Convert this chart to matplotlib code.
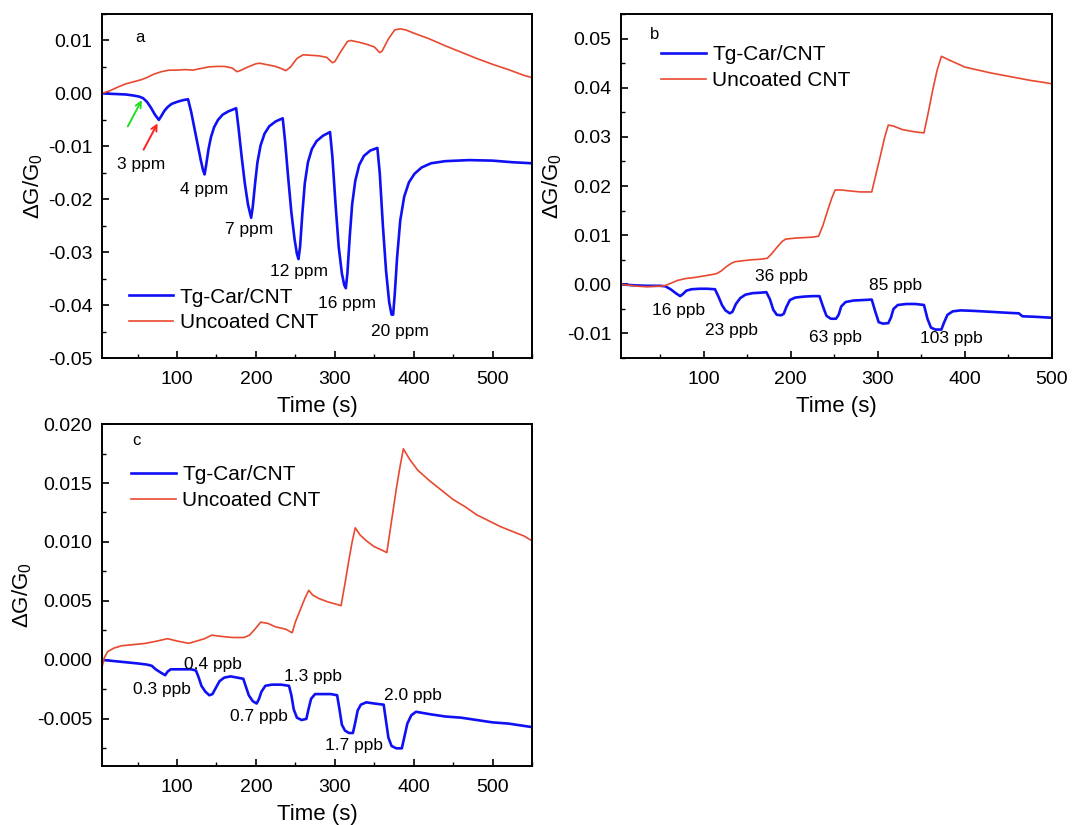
import matplotlib
matplotlib.use("Agg")
import matplotlib.pyplot as plt
from matplotlib.ticker import MultipleLocator, FuncFormatter

plt.rcParams['font.family'] = ['Liberation Sans', 'DejaVu Sans']
plt.rcParams['axes.unicode_minus'] = False
plt.rcParams['mathtext.fontset'] = 'custom'
plt.rcParams['mathtext.rm'] = 'Liberation Sans'
plt.rcParams['mathtext.it'] = 'Liberation Sans'

BLUE = '#1010f5'
RED = '#e8492f'

# ---------------- panel a: ppm exposures ----------------
a_coated_t = [5, 20, 35, 45, 52, 57, 62, 67, 72, 77, 80, 84, 88, 93, 100, 107, 114,
              118, 122, 126, 130, 133, 135, 137, 140, 143, 147, 152, 158, 165, 175,
              178, 182, 186, 190, 194, 196, 199, 202, 206, 211, 217, 225, 234,
              237, 241, 245, 249, 252, 254, 256, 259, 262, 266, 271, 277, 285, 294,
              297, 301, 305, 309, 312, 314, 316, 319, 322, 326, 331, 337, 345, 354,
              357, 361, 365, 369, 372, 374, 376, 379, 383, 388, 394, 401, 410, 422,
              440, 470, 500, 525, 550]
a_coated_v = [0.0, -0.0001, -0.0002, -0.0004, -0.0006, -0.0009, -0.0016, -0.0027, -0.0040,
              -0.0050, -0.0043, -0.0033, -0.0026, -0.0020, -0.0016, -0.0013, -0.0011,
              -0.0035, -0.0065, -0.0095, -0.0125, -0.0145, -0.0153, -0.0135, -0.0105,
              -0.0083, -0.0064, -0.0050, -0.0040, -0.0034, -0.0028,
              -0.0065, -0.0120, -0.0170, -0.0210, -0.0235, -0.0215, -0.0170, -0.0130,
              -0.0098, -0.0076, -0.0062, -0.0053, -0.0047,
              -0.0090, -0.0160, -0.0225, -0.0275, -0.0303, -0.0313, -0.0290, -0.0225,
              -0.0170, -0.0130, -0.0105, -0.0090, -0.0080, -0.0073,
              -0.0120, -0.0210, -0.0290, -0.0340, -0.0362, -0.0368, -0.0340, -0.0270,
              -0.0210, -0.0165, -0.0135, -0.0118, -0.0108, -0.0103,
              -0.0150, -0.0250, -0.0335, -0.0395, -0.0418, -0.0418, -0.0380, -0.0310,
              -0.0240, -0.0195, -0.0168, -0.0152, -0.0140, -0.0132,
              -0.0128, -0.0126, -0.0127, -0.0130, -0.0132]

a_bare_t = [5, 15, 25, 35, 45, 55, 62, 70, 80, 90, 100, 110, 120, 130, 140, 150, 160,
            170, 176, 180, 190, 200, 205, 215, 225, 232, 238, 244, 252, 260, 270, 280,
            290, 297, 300, 308, 316, 320, 330, 340, 350, 357, 360, 368, 376, 383, 390,
            400, 420, 440, 460, 480, 500, 520, 540, 550]
a_bare_v = [0.0, 0.0005, 0.0012, 0.0018, 0.0022, 0.0026, 0.0030, 0.0036, 0.0041, 0.0044,
            0.0044, 0.0045, 0.0044, 0.0047, 0.0050, 0.0051, 0.0051, 0.0048, 0.0041,
            0.0043, 0.0050, 0.0056, 0.0057, 0.0054, 0.0051, 0.0047, 0.0043, 0.0050,
            0.0066, 0.0073, 0.0072, 0.0071, 0.0068, 0.0058, 0.0060, 0.0080, 0.0098,
            0.0100, 0.0097, 0.0093, 0.0088, 0.0077, 0.0080, 0.0103, 0.0120, 0.0122,
            0.0120, 0.0114, 0.0103, 0.0090, 0.0078, 0.0066, 0.0055, 0.0045, 0.0034,
            0.0030]

a_labels = ['3 ppm', '4 ppm', '7 ppm', '12 ppm', '16 ppm', '20 ppm']
a_label_x = [55, 134, 191, 255, 316, 382]
a_label_y = [-0.0134, -0.0182, -0.0258, -0.0337, -0.0397, -0.0450]

# ---------------- panel b: ppb exposures ----------------
b_coated_t = [5, 20, 35, 50, 56, 62, 68, 73, 76, 80, 86, 95, 104, 113,
              117, 121, 125, 130, 133, 137, 142, 148, 156, 165, 172,
              176, 180, 184, 189, 192, 195, 199, 205, 215, 225, 233,
              237, 241, 246, 252, 255, 258, 263, 272, 283, 293,
              297, 301, 306, 312, 315, 318, 323, 333, 343, 353,
              357, 361, 366, 373, 376, 380, 386, 395, 410, 430, 450, 462, 466, 480, 500]
b_coated_v = [0.0, -0.0002, -0.0003, -0.0003, -0.0004, -0.0010, -0.0018, -0.0024, -0.0020,
              -0.0013, -0.0010, -0.0009, -0.0009, -0.0010,
              -0.0025, -0.0042, -0.0053, -0.0059, -0.0056, -0.0040, -0.0028, -0.0021,
              -0.0018, -0.0017, -0.0016,
              -0.0030, -0.0052, -0.0062, -0.0063, -0.0060, -0.0046, -0.0032, -0.0027,
              -0.0025, -0.0024, -0.0024,
              -0.0045, -0.0064, -0.0070, -0.0070, -0.0062, -0.0045, -0.0036, -0.0033,
              -0.0032, -0.0031,
              -0.0055, -0.0077, -0.0080, -0.0079, -0.0068, -0.0050, -0.0042, -0.0040,
              -0.0040, -0.0042,
              -0.0070, -0.0088, -0.0092, -0.0092, -0.0078, -0.0062, -0.0055, -0.0053,
              -0.0054, -0.0056, -0.0058, -0.0059, -0.0065, -0.0066, -0.0068]

b_bare_t = [5, 15, 25, 35, 45, 55, 62, 70, 80, 90, 100, 110, 115, 120, 126, 132, 136,
            145, 155, 165, 173, 178, 184, 190, 194, 205, 215, 225, 232, 237, 242, 247,
            251, 258, 268, 280, 293, 298, 303, 308, 312, 318, 328, 340, 353, 358, 363,
            368, 373, 380, 390, 400, 415, 430, 445, 460, 475, 490, 500]
b_bare_v = [0.0, -0.0002, -0.0004, -0.0005, -0.0004, -0.0003, 0.0002, 0.0008, 0.0012,
            0.0014, 0.0017, 0.0020, 0.0022, 0.0027, 0.0036, 0.0043, 0.0046, 0.0048,
            0.0050, 0.0051, 0.0053, 0.0062, 0.0075, 0.0087, 0.0092, 0.0094, 0.0095,
            0.0096, 0.0098, 0.0120, 0.0148, 0.0175, 0.0192, 0.0192, 0.0190, 0.0188,
            0.0188, 0.0225, 0.0262, 0.0300, 0.0324, 0.0322, 0.0315, 0.0311, 0.0308,
            0.0350, 0.0395, 0.0435, 0.0464, 0.0458, 0.0450, 0.0442, 0.0436, 0.0430,
            0.0425, 0.0420, 0.0415, 0.0411, 0.0408]

b_labels = ['16 ppb', '23 ppb', '36 ppb', '63 ppb', '85 ppb', '103 ppb']
b_label_x = [71, 132, 189, 251, 320, 385]
b_label_y = [-0.0054, -0.0094, 0.0016, -0.0109, -0.0002, -0.0111]

# ---------------- panel c: sub-ppb exposures ----------------
c_coated_t = [5, 20, 35, 50, 62, 68, 73, 80, 85, 88, 92, 100, 110, 118, 124,
              127, 131, 136, 141, 145, 149, 154, 160, 168, 176, 184,
              187, 191, 196, 201, 204, 207, 212, 220, 232, 242,
              245, 248, 252, 258, 264, 267, 270, 275, 285, 295, 303,
              306, 309, 313, 318, 323, 326, 329, 333, 340, 350, 362,
              365, 368, 372, 378, 385, 388, 392, 397, 403, 420, 440, 460, 480, 500,
              520, 540, 550]
c_coated_v = [0.0, -0.0001, -0.0002, -0.0003, -0.0004, -0.0005, -0.0008, -0.0011, -0.0013,
              -0.0010, -0.0008, -0.0008, -0.0008, -0.0008, -0.0009,
              -0.0014, -0.0022, -0.0027, -0.0030, -0.0029, -0.0024, -0.0018, -0.0015,
              -0.0014, -0.0015, -0.0016,
              -0.0022, -0.0030, -0.0035, -0.0037, -0.0033, -0.0027, -0.0022, -0.0021,
              -0.0021, -0.0022,
              -0.0030, -0.0042, -0.0049, -0.0051, -0.0050, -0.0041, -0.0033, -0.0029,
              -0.0029, -0.0029, -0.0030,
              -0.0042, -0.0055, -0.0060, -0.0062, -0.0062, -0.0053, -0.0043, -0.0038,
              -0.0036, -0.0037, -0.0038,
              -0.0052, -0.0066, -0.0073, -0.0075, -0.0075, -0.0066, -0.0054, -0.0047,
              -0.0044, -0.0046, -0.0048, -0.0049, -0.0051, -0.0053, -0.0054, -0.0056,
              -0.0057]

c_bare_t = [5, 8, 12, 20, 30, 45, 60, 75, 88, 100, 115, 125, 135, 144, 155, 170, 185,
            192, 200, 206, 215, 225, 238, 246, 250, 256, 262, 267, 272, 280, 292, 303,
            308, 313, 318, 322, 326, 332, 340, 350, 360, 366, 372, 378, 383, 387, 395,
            405, 420, 435, 450, 465, 480, 495, 510, 525, 540, 550]
c_bare_v = [-0.0006, 0.0002, 0.0007, 0.0010, 0.0012, 0.0013, 0.0014, 0.0016, 0.0018,
            0.0016, 0.0014, 0.0016, 0.0018, 0.0021, 0.0020, 0.0019, 0.0019, 0.0021,
            0.0027, 0.0032, 0.0031, 0.0028, 0.0026, 0.0023, 0.0032, 0.0042, 0.0052,
            0.0059, 0.0055, 0.0052, 0.0049, 0.0047, 0.0046, 0.0065, 0.0085, 0.0100,
            0.0112, 0.0106, 0.0101, 0.0096, 0.0093, 0.0091, 0.0118, 0.0145, 0.0165,
            0.0179, 0.0170, 0.0161, 0.0152, 0.0144, 0.0136, 0.0130, 0.0123, 0.0118,
            0.0113, 0.0109, 0.0105, 0.0101]

c_labels = ['0.3 ppb', '0.4 ppb', '0.7 ppb', '1.3 ppb', '1.7 ppb', '2.0 ppb']
c_label_x = [81, 146, 204, 272, 324, 399]
c_label_y = [-0.0025, -0.0004, -0.0048, -0.0014, -0.0073, -0.0030]

series_names = ['Tg-Car/CNT', 'Uncoated CNT']

fig = plt.figure(figsize=(10.73, 8.25), dpi=100)
ax_a = fig.add_axes([0.0951, 0.566, 0.4007, 0.417])
ax_b = fig.add_axes([0.5787, 0.566, 0.4017, 0.417])
ax_c = fig.add_axes([0.0951, 0.0715, 0.4007, 0.4145])


def tick_fmt(decimals):
    def f(v, pos):
        s = f'{v:.{decimals}f}'
        if float(s) == 0:
            s = s.lstrip('-')
        return s
    return FuncFormatter(f)


def style(ax, xlim, ylim, ymaj, ymin, decimals):
    ax.set_xlim(*xlim)
    ax.set_ylim(*ylim)
    ax.xaxis.set_major_locator(MultipleLocator(100))
    ax.xaxis.set_minor_locator(MultipleLocator(50))
    ax.yaxis.set_major_locator(MultipleLocator(ymaj))
    ax.yaxis.set_minor_locator(MultipleLocator(ymin))
    ax.yaxis.set_major_formatter(tick_fmt(decimals))
    ax.tick_params(which='major', direction='in', length=5, width=1.2,
                   labelsize=14)
    ax.tick_params(axis='x', which='major', pad=9)
    ax.tick_params(axis='y', which='major', pad=7)
    ax.tick_params(which='minor', direction='in', length=3, width=1.0)
    for sp in ax.spines.values():
        sp.set_linewidth(1.4)
    ax.set_xlabel('Time (s)', fontsize=16, labelpad=6)
    ax.set_ylabel(r'$\Delta$G/G$_0$', fontsize=16, labelpad=2)


def draw(ax, t1, v1, t2, v2, legend_anchor):
    ax.plot(t1, v1, color=BLUE, lw=1.9, label=series_names[0])
    ax.plot(t2, v2, color=RED, lw=1.2, label=series_names[1])
    ax.legend(loc='upper left', bbox_to_anchor=legend_anchor, frameon=False,
              fontsize=15, handlelength=2.15, handletextpad=0.3,
              labelspacing=0.33, borderaxespad=0, borderpad=0)


# panel a
draw(ax_a, a_coated_t, a_coated_v, a_bare_t, a_bare_v, (0.062, 0.205))
style(ax_a, (5, 550), (-0.05, 0.015), 0.01, 0.005, 2)
for s, x, y in zip(a_labels, a_label_x, a_label_y):
    ax_a.text(x, y, s, fontsize=12.5, ha='center', va='center')
ax_a.text(53, 0.0105, 'a', fontsize=12, ha='center', va='center')
ax_a.annotate('', xy=(57, -0.0008), xytext=(36, -0.0067),
              arrowprops=dict(arrowstyle='->', color='#22dd22', lw=1.4))
ax_a.annotate('', xy=(77, -0.0052), xytext=(56, -0.0111),
              arrowprops=dict(arrowstyle='->', color='#ff2020', lw=1.4))

# panel b
draw(ax_b, b_coated_t, b_coated_v, b_bare_t, b_bare_v, (0.093, 0.909))
style(ax_b, (5, 500), (-0.015, 0.055), 0.01, 0.005, 2)
for s, x, y in zip(b_labels, b_label_x, b_label_y):
    ax_b.text(x, y, s, fontsize=12.5, ha='center', va='center')
ax_b.text(44, 0.0508, 'b', fontsize=12, ha='center', va='center')

# panel c
draw(ax_c, c_coated_t, c_coated_v, c_bare_t, c_bare_v, (0.068, 0.879))
style(ax_c, (5, 550), (-0.009, 0.020), 0.005, 0.0025, 3)
for s, x, y in zip(c_labels, c_label_x, c_label_y):
    ax_c.text(x, y, s, fontsize=12.5, ha='center', va='center')
ax_c.text(49, 0.0186, 'c', fontsize=12, ha='center', va='center')

fig.savefig('out.png', dpi=100)
